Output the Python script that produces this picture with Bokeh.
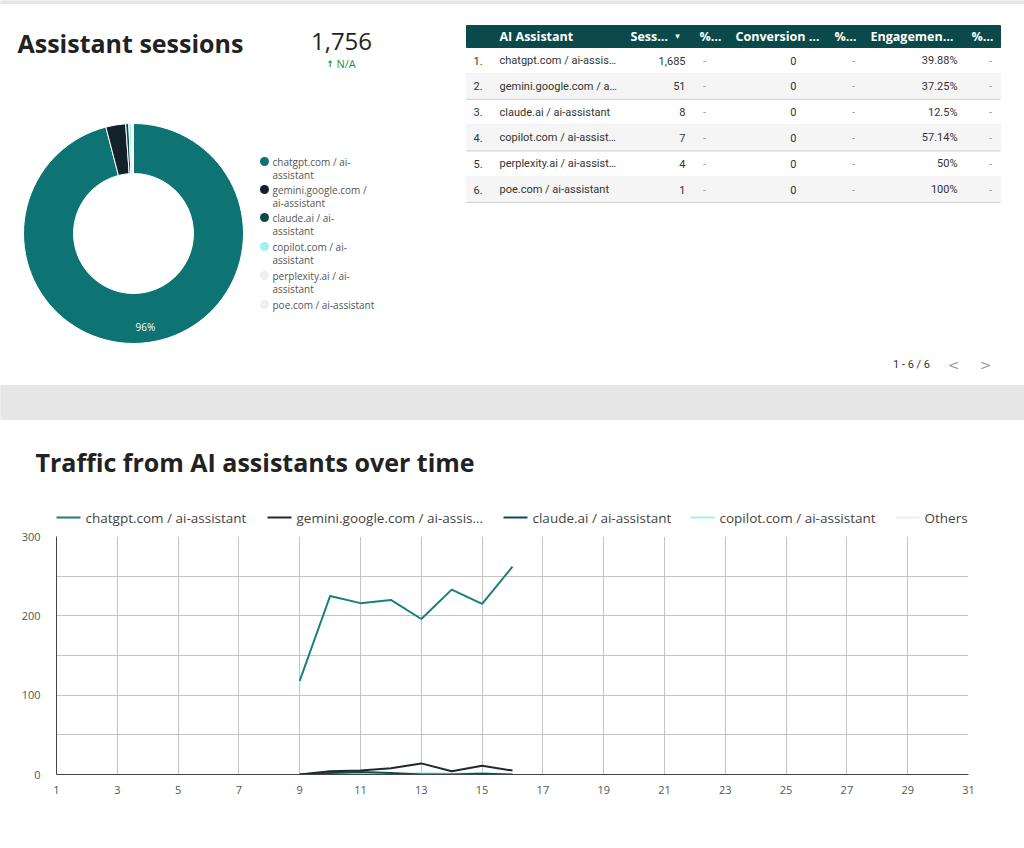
import numpy as np
from bokeh.plotting import figure
from bokeh.layouts import column
from bokeh.models import Range1d, FixedTicker
from bokeh.core.properties import value
from bokeh.embed import file_html
from bokeh.resources import INLINE

# ---------------- data ----------------
assistants = ["chatgpt.com / ai-assistant", "gemini.google.com / ai-assistant",
              "claude.ai / ai-assistant", "copilot.com / ai-assistant",
              "perplexity.ai / ai-assistant", "poe.com / ai-assistant"]
table_labels = ["chatgpt.com / ai-assis…", "gemini.google.com / a…", "claude.ai / ai-assistant",
                "copilot.com / ai-assist…", "perplexity.ai / ai-assist…", "poe.com / ai-assistant"]
sessions = [1685, 51, 8, 7, 4, 1]
conversions = [0, 0, 0, 0, 0, 0]
engagement = [39.88, 37.25, 12.5, 57.14, 50, 100]
legend_lines = [["chatgpt.com / ai-", "assistant"], ["gemini.google.com /", "ai-assistant"],
                ["claude.ai / ai-", "assistant"], ["copilot.com / ai-", "assistant"],
                ["perplexity.ai / ai-", "assistant"], ["poe.com / ai-assistant"]]
header_labels = ["AI Assistant", "Sess…", "%…", "Conversion …", "%…", "Engagemen…", "%…"]
colors = ["#0d7373", "#13222a", "#0b4a4a", "#a6eef0", "#efefef", "#efefef"]

days = [9, 10, 11, 12, 13, 14, 15, 16]
chatgpt_daily = [118, 225, 216, 220, 196, 233, 215, 262]
gemini_daily = [0, 4, 5, 8, 14, 4, 11, 5]
claude_daily = [0, 2, 3, 2, 0, 0, 1, 0]
copilot_daily = [0, 1, 1, 0, 2, 1, 2, 0]
others_daily = [0, 1, 0, 1, 1, 0, 1, 1]
series_names = ["chatgpt.com / ai-assistant", "gemini.google.com / ai-assis…",
                "claude.ai / ai-assistant", "copilot.com / ai-assistant", "Others"]
series_colors = ["#1a7e80", "#1d2b30", "#0e4d4f", "#a6eef0", "#ececec"]
x_ticks = list(range(1, 32, 2))
y_ticks = [0, 100, 200, 300]
y_minor = [50, 150, 250]

FONT = value("Open Sans")
TFONT = value("Roboto")
W = 1024

# ---------------- top section ----------------
H1 = 420
top = figure(width=W, height=H1, x_range=Range1d(0, W), y_range=Range1d(0, H1),
             x_axis_type=None, y_axis_type=None, output_backend="svg",
             toolbar_location=None, min_border=0, outline_line_color=None,
             frame_align=False)
top.grid.visible = False


def Y(py):
    return H1 - py


top.quad(left=[0], right=[W], bottom=[Y(3)], top=[Y(0)], color="#e6e6e6")
top.quad(left=[0], right=[W], bottom=[Y(420)], top=[Y(385)], color="#e6e6e6")

top.text(x=[17], y=[Y(42)], text=["Assistant sessions"], text_font=FONT,
         text_font_style="bold", text_font_size="25px", text_color="#222222",
         text_baseline="middle")

total = sum(sessions)
top.text(x=[341], y=[Y(41)], text=[f"{total:,}"], text_font=FONT, text_font_size="24px",
         text_color="#222222", text_baseline="middle", text_align="center")
top.text(x=[326], y=[Y(63)], text=["↑"], text_font=value("DejaVu Sans"),
         text_font_style="bold", text_font_size="9px", text_color="#1e8e3e",
         text_baseline="middle")
top.text(x=[336], y=[Y(63)], text=["N/A"], text_font=FONT, text_font_size="11px",
         text_color="#1e8e3e", text_baseline="middle")

# donut
cx, cy, r_in, r_out = 133, Y(233), 60, 110
frac = np.array(sessions) / total
cum = np.concatenate([[0], np.cumsum(frac)])
start = np.pi / 2 - 2 * np.pi * cum[:-1]
end = np.pi / 2 - 2 * np.pi * cum[1:]
top.annular_wedge(x=cx, y=cy, inner_radius=r_in, outer_radius=r_out,
                  start_angle=start, end_angle=end, direction="clock",
                  fill_color=colors, line_color="white", line_width=1)
for f, a0, a1 in zip(frac, start, end):
    if f > 0.05:
        mid = (a0 + a1) / 2
        rr = 94
        top.text(x=[cx + rr * np.cos(mid)], y=[cy + rr * np.sin(mid)],
                 text=[f"{round(f * 100)}%"], text_font=FONT, text_font_size="10px",
                 text_color="white", text_align="center", text_baseline="middle")

# donut legend
leg_y = [161, 189, 217, 246, 275, 304]
for lines, c, ly in zip(legend_lines, colors, leg_y):
    top.scatter(x=[264], y=[Y(ly)], size=9, fill_color=c, line_color=None)
    for k, t in enumerate(lines):
        top.text(x=[272], y=[Y(ly + 13 * k)], text=[t], text_font=FONT,
                 text_font_size="10px", text_color="#555555", text_baseline="middle")

# table
tl, tr = 466, 1000
top.quad(left=[tl], right=[tr], bottom=[Y(47)], top=[Y(25)], color="#0b4a4a")
hx = [499, 630, 699, 735, 834, 870, 971]
for x, t in zip(hx, header_labels):
    top.text(x=[x], y=[Y(36)], text=[t], text_font=FONT, text_font_style="bold",
             text_font_size="12.5px", text_color="white", text_baseline="middle")
top.text(x=[677], y=[Y(35)], text=["▾"], text_font=value("DejaVu Sans"),
         text_font_size="9px", text_color="white", text_baseline="middle",
         text_align="center")

row_h = 25.8
for i in range(len(sessions)):
    yc = 60 + row_h * i
    if i % 2 == 1:
        top.quad(left=[tl], right=[tr], bottom=[Y(yc + 13)], top=[Y(yc - 13)],
                 color="#f5f5f5")
    top.segment(x0=[tl], x1=[tr], y0=[Y(yc + 13)], y1=[Y(yc + 13)],
                line_color="#cfcfcf", line_width=1)
    st = dict(text_font=TFONT, text_font_size="11px", text_color="#333333",
              text_baseline="middle")
    top.text(x=[473], y=[Y(yc)], text=[f"{i + 1}."], **st)
    top.text(x=[499], y=[Y(yc)], text=[table_labels[i]], **st)
    top.text(x=[685], y=[Y(yc)], text=[f"{sessions[i]:,}"], text_align="right", **st)
    top.text(x=[796], y=[Y(yc)], text=[f"{conversions[i]}"], text_align="right", **st)
    top.text(x=[957], y=[Y(yc)], text=[f"{engagement[i]:g}%"], text_align="right", **st)
    dash = dict(text_font=TFONT, text_font_size="11px", text_color="#999999",
                text_baseline="middle", text_align="center")
    for dx in (704, 853, 990):
        top.text(x=[dx], y=[Y(yc)], text=["-"], **dash)

top.text(x=[911], y=[Y(364)], text=["1 - 6 / 6"], text_font=TFONT, text_font_size="11px",
         text_color="#333333", text_baseline="middle", text_align="center")
top.text(x=[953], y=[Y(364)], text=["<"], text_font=value("DejaVu Sans"),
         text_font_size="14px", text_color="#9a9a9a", text_baseline="middle",
         text_align="center")
top.text(x=[985], y=[Y(364)], text=[">"], text_font=value("DejaVu Sans"),
         text_font_size="14px", text_color="#9a9a9a", text_baseline="middle",
         text_align="center")

# ---------------- line chart header ----------------
H2 = 106
head = figure(width=W, height=H2, x_range=Range1d(0, W), y_range=Range1d(0, H2),
              x_axis_type=None, y_axis_type=None, output_backend="svg",
              toolbar_location=None, min_border=0, outline_line_color=None,
              frame_align=False)
head.grid.visible = False


def Y2(py):
    return H2 - py


head.text(x=[35], y=[Y2(41)], text=["Traffic from AI assistants over time"], text_font=FONT,
          text_font_style="bold", text_font_size="25px", text_color="#222222",
          text_baseline="middle")
leg_x = [56, 267, 503, 690, 895]
for lx, name, c in zip(leg_x, series_names, series_colors):
    head.segment(x0=[lx], x1=[lx + 24], y0=[Y2(97)], y1=[Y2(97)], line_color=c,
                 line_width=2)
    head.text(x=[lx + 29], y=[Y2(97)], text=[name], text_font=FONT, text_font_size="13.5px",
              text_color="#444444", text_baseline="middle")

# ---------------- line chart ----------------
lp = figure(width=W, height=322, x_range=Range1d(1, 31), y_range=Range1d(0, 300),
            output_backend="svg", toolbar_location=None, min_border_left=56,
            min_border_right=56, min_border_top=10, min_border_bottom=74,
            outline_line_color=None, frame_align=False)
series = [others_daily, copilot_daily, claude_daily, gemini_daily, chatgpt_daily]
for vals, c in zip(series, series_colors[::-1]):
    lp.line(days, vals, line_color=c, line_width=2)

lp.xaxis.ticker = FixedTicker(ticks=x_ticks)
lp.yaxis.ticker = FixedTicker(ticks=y_ticks, minor_ticks=y_minor)
for ax in (lp.xaxis[0], lp.yaxis[0]):
    ax.major_tick_line_color = None
    ax.minor_tick_line_color = None
    ax.axis_line_color = "#444444"
    ax.axis_line_width = 1
    ax.major_label_text_font = "Open Sans"
    ax.major_label_text_font_size = "11px"
    ax.major_label_text_color = "#555555"
lp.xaxis.major_label_standoff = 5
lp.yaxis.major_label_standoff = 10
lp.xgrid.grid_line_color = "#c4c4c4"
lp.ygrid.grid_line_color = "#c4c4c4"
lp.ygrid.minor_grid_line_color = "#c4c4c4"

p = column(top, head, lp, spacing=0)
open("out.html", "w").write(file_html(p, INLINE))
